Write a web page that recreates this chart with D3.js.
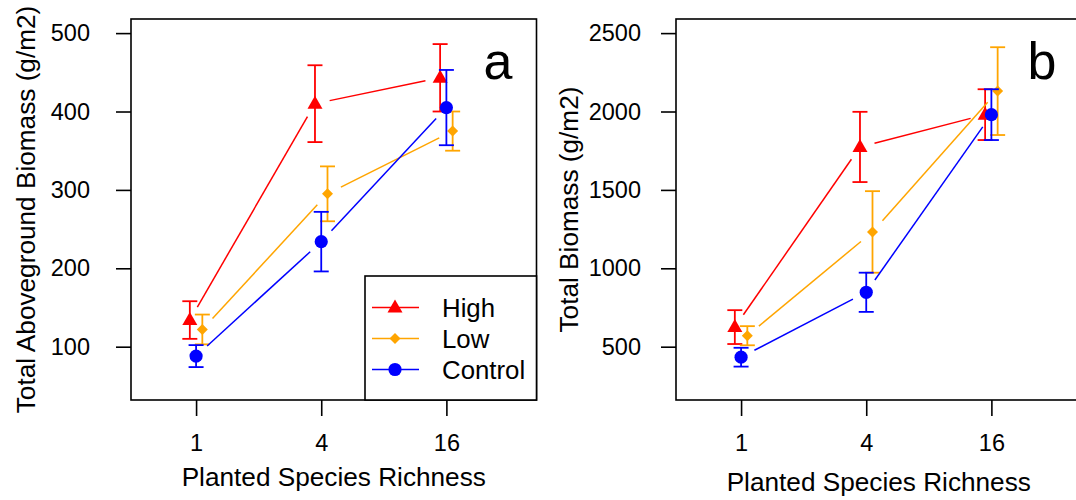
<!DOCTYPE html>
<html>
<head>
<meta charset="utf-8">
<script src="https://cdn.jsdelivr.net/npm/d3@7"></script>
<style>
  html, body { margin: 0; padding: 0; background: #fff; }
  svg { display: block; font-family: "Liberation Sans", Arial, Helvetica, sans-serif; }
</style>
</head>
<body>
<svg id="chart" width="1076" height="500"></svg>
<script>
// Planted species richness levels (categorical positions 1..3)
const richness = ["1", "4", "16"];
const treatments = ["High", "Low", "Control"];

// Total aboveground biomass (g/m2): means and standard errors
const aboveHigh    = [134, 410, 443];
const aboveHighSE  = [24, 49, 43];
const aboveLow     = [122, 295, 375];
const aboveLowSE   = [19, 35, 25];
const aboveControl = [88, 234, 405];
const aboveControlSE = [14, 38, 48];

// Total biomass (g/m2): means and standard errors
const totalHigh    = [625, 1774, 1980];
const totalHighSE  = [108, 224, 162];
const totalLow     = [570, 1232, 2130];
const totalLowSE   = [61, 260, 280];
const totalControl = [433, 847, 1980];
const totalControlSE = [60, 125, 162];

const aboveTicks = [100, 200, 300, 400, 500];
const totalTicks = [500, 1000, 1500, 2000, 2500];

const colors = { High: "#FF0000", Low: "#FFA500", Control: "#0000FF" };
const offsets = { High: -0.05, Low: 0.05, Control: 0 };

const svg = d3.select("#chart");

// pad a range by 4% on each side, like base R axes
function padded(lo, hi) {
  const d = (hi - lo) * 0.04;
  return [lo - d, hi + d];
}

function marker(g, type, x, y, color) {
  if (type === "High") {
    g.append("path")
      .attr("d", `M${x},${y - 8} L${x + 7.5},${y + 5} L${x - 7.5},${y + 5} Z`)
      .attr("fill", color);
  } else if (type === "Low") {
    g.append("path")
      .attr("d", `M${x},${y - 5.5} L${x + 5.5},${y} L${x},${y + 5.5} L${x - 5.5},${y} Z`)
      .attr("fill", color);
  } else {
    g.append("circle").attr("cx", x).attr("cy", y).attr("r", 6.6).attr("fill", color);
  }
}

function panel(cfg) {
  const g = svg.append("g");
  const x = d3.scaleLinear().domain(padded(0.6, 3.6)).range([cfg.left, cfg.left + 405.5]);
  const y = d3.scaleLinear().domain(padded(cfg.ylim[0], cfg.ylim[1])).range([cfg.bottom, cfg.top]);

  // y axis
  const ya = g.append("g")
    .attr("transform", `translate(${cfg.left},0)`)
    .call(d3.axisLeft(y).tickValues(cfg.yticks).tickSize(15).tickPadding(cfg.yPad).tickFormat(d3.format("d")));
  ya.select(".domain").remove();
  ya.selectAll(".tick line").attr("stroke", "#000").attr("stroke-width", 1.6);
  ya.selectAll(".tick text").attr("font-size", 23.5).attr("fill", "#000")
    .attr("font-family", "'Liberation Sans', Arial, sans-serif");

  // x axis
  const xa = g.append("g")
    .attr("transform", `translate(0,${cfg.bottom})`)
    .call(d3.axisBottom(x).tickValues([1, 2, 3]).tickSize(16).tickPadding(18)
      .tickFormat((d, i) => richness[i]));
  xa.select(".domain").remove();
  xa.selectAll(".tick line").attr("stroke", "#000").attr("stroke-width", 1.6);
  xa.selectAll(".tick text").attr("font-size", 23.5).attr("fill", "#000")
    .attr("font-family", "'Liberation Sans', Arial, sans-serif");

  // plot frame
  g.append("rect")
    .attr("x", cfg.left).attr("y", cfg.top)
    .attr("width", 405.5).attr("height", cfg.bottom - cfg.top)
    .attr("fill", "none").attr("stroke", "#000").attr("stroke-width", 1.6);

  // axis titles
  g.append("text")
    .attr("x", cfg.left + 202.75).attr("y", cfg.xTitleY)
    .attr("text-anchor", "middle").attr("font-size", 26.2)
    .text("Planted Species Richness");
  g.append("text")
    .attr("transform", `translate(${cfg.yTitleX},${(cfg.top + cfg.bottom) / 2}) rotate(-90)`)
    .attr("dy", "0.35em")
    .attr("text-anchor", "middle").attr("font-size", 26.2)
    .text(cfg.ytitle);

  // panel letter
  g.append("text")
    .attr("x", cfg.letterX).attr("y", 79)
    .attr("text-anchor", "middle").attr("font-size", 52)
    .text(cfg.letter);

  // series: connecting segments with gaps, error bars, symbols
  cfg.series.forEach(s => {
    const col = colors[s.name];
    const pts = s.mean.map((m, i) => [x(i + 1 + offsets[s.name]), y(m)]);
    const gap = 15;
    for (let i = 0; i < pts.length - 1; i++) {
      const [x0, y0] = pts[i], [x1, y1] = pts[i + 1];
      const len = Math.hypot(x1 - x0, y1 - y0);
      const ux = (x1 - x0) / len, uy = (y1 - y0) / len;
      g.append("line")
        .attr("x1", x0 + ux * gap).attr("y1", y0 + uy * gap)
        .attr("x2", x1 - ux * gap).attr("y2", y1 - uy * gap)
        .attr("stroke", col).attr("stroke-width", 1.5);
    }
    s.mean.forEach((m, i) => {
      const cx = x(i + 1 + offsets[s.name]);
      const yt = y(m + s.se[i]), yb = y(m - s.se[i]);
      g.append("line").attr("x1", cx).attr("x2", cx).attr("y1", yt).attr("y2", yb)
        .attr("stroke", col).attr("stroke-width", 1.8);
      [yt, yb].forEach(v => g.append("line")
        .attr("x1", cx - 7.5).attr("x2", cx + 7.5).attr("y1", v).attr("y2", v)
        .attr("stroke", col).attr("stroke-width", 1.8));
      marker(g, s.name, cx, y(m), col);
    });
  });

  if (cfg.legend) {
    const lx = 365, ly = 276;
    g.append("rect")
      .attr("x", lx).attr("y", ly)
      .attr("width", cfg.left + 405.5 - lx).attr("height", cfg.bottom - ly)
      .attr("fill", "#fff").attr("stroke", "#000").attr("stroke-width", 1.6);
    treatments.forEach((t, i) => {
      const yy = 307.5 + i * 31;
      g.append("line").attr("x1", 372).attr("x2", 419).attr("y1", yy).attr("y2", yy)
        .attr("stroke", colors[t]).attr("stroke-width", 1.5);
      marker(g, t, 395, yy, colors[t]);
      g.append("text").attr("x", 442).attr("y", yy).attr("dy", "0.36em")
        .attr("font-size", 25.8).text(t);
    });
  }
}

panel({
  left: 131, top: 19, bottom: 400,
  ylim: [50, 500], yticks: aboveTicks, yPad: 26,
  ytitle: "Total Aboveground Biomass (g/m2)", yTitleX: 26, xTitleY: 486,
  letter: "a", letterX: 498, legend: true,
  series: [
    { name: "High", mean: aboveHigh, se: aboveHighSE },
    { name: "Low", mean: aboveLow, se: aboveLowSE },
    { name: "Control", mean: aboveControl, se: aboveControlSE }
  ]
});

panel({
  left: 676, top: 19, bottom: 400,
  ylim: [250, 2500], yticks: totalTicks, yPad: 20,
  ytitle: "Total Biomass (g/m2)", yTitleX: 569, xTitleY: 491,
  letter: "b", letterX: 1042, legend: false,
  series: [
    { name: "High", mean: totalHigh, se: totalHighSE },
    { name: "Low", mean: totalLow, se: totalLowSE },
    { name: "Control", mean: totalControl, se: totalControlSE }
  ]
});
</script>
</body>
</html>
